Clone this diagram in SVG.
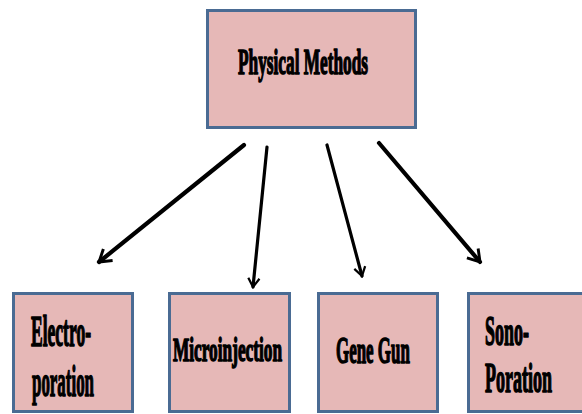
<svg xmlns="http://www.w3.org/2000/svg" width="582" height="414" viewBox="0 0 582 414">
<style>
.box{fill:#e6b8b7;stroke:#4a6b93;stroke-width:3}
.lbl{font-family:"Liberation Serif","Times New Roman",serif;font-weight:bold;fill:#000;stroke:#000;stroke-width:1.6;stroke-linejoin:round}
.arr{fill:none;stroke:#000;stroke-linecap:round}
</style>
<defs>
<marker id="ah" viewBox="-14 -9 16 18" refX="0" refY="0" markerWidth="4" markerHeight="4.5" orient="auto">
<path d="M-11,-7 L0,0 L-11,7" fill="none" stroke="#000" stroke-width="2.8" stroke-linejoin="miter"/>
</marker>
</defs>
<rect width="582" height="414" fill="#fff"/>
<g id="connectors">
<line class="arr" x1="244" y1="145" x2="99" y2="262" stroke-width="4.2" marker-end="url(#ah)"/>
<line class="arr" x1="267" y1="147" x2="253" y2="287" stroke-width="3.2" marker-end="url(#ah)"/>
<line class="arr" x1="327" y1="145" x2="362" y2="276" stroke-width="3.2" marker-end="url(#ah)"/>
<line class="arr" x1="379" y1="143" x2="480" y2="262" stroke-width="4.2" marker-end="url(#ah)"/>
</g>
<g id="physical-methods">
<rect class="box" x="207.5" y="10.5" width="208" height="117"/>
<text class="lbl" transform="translate(238,74) scale(0.48,1)" font-size="36" textLength="271" lengthAdjust="spacingAndGlyphs">Physical Methods</text>
</g>
<g id="electroporation">
<rect class="box" x="13.5" y="293.5" width="119" height="118"/>
<text class="lbl" transform="translate(31,346) scale(0.4,1)" font-size="44" textLength="150" lengthAdjust="spacingAndGlyphs">Electro-</text>
<text class="lbl" transform="translate(32,396) scale(0.4,1)" font-size="44" textLength="155" lengthAdjust="spacingAndGlyphs">poration</text>
</g>
<g id="microinjection">
<rect class="box" x="169.5" y="293.5" width="120" height="118"/>
<text class="lbl" transform="translate(173,361) scale(0.5,1)" font-size="34" textLength="218" lengthAdjust="spacingAndGlyphs">Microinjection</text>
</g>
<g id="gene-gun">
<rect class="box" x="318.5" y="293.5" width="119" height="118"/>
<text class="lbl" transform="translate(336,363) scale(0.45,1)" font-size="38" textLength="164" lengthAdjust="spacingAndGlyphs">Gene Gun</text>
</g>
<g id="sonoporation">
<rect class="box" x="468.5" y="293.5" width="120" height="118"/>
<text class="lbl" transform="translate(485,345) scale(0.43,1)" font-size="42" textLength="102" lengthAdjust="spacingAndGlyphs">Sono-</text>
<text class="lbl" transform="translate(485,392) scale(0.43,1)" font-size="42" textLength="156" lengthAdjust="spacingAndGlyphs">Poration</text>
</g>
</svg>
